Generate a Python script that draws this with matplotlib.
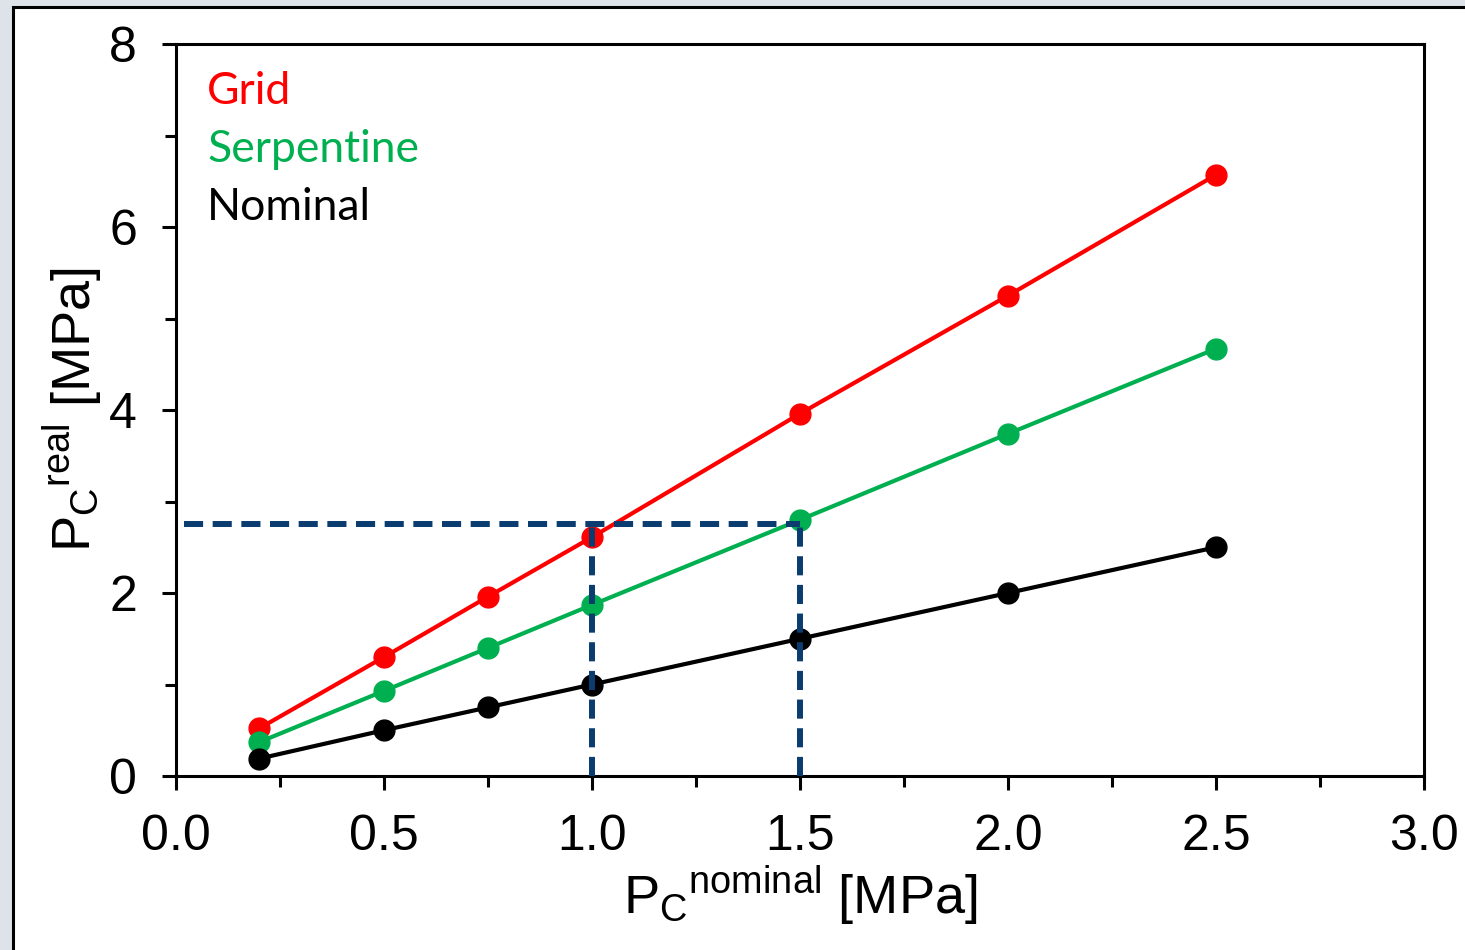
import matplotlib
matplotlib.use("Agg")
import matplotlib.pyplot as plt
from matplotlib.patches import Rectangle
from matplotlib.ticker import MultipleLocator

# Data
x_nominal = [0.2, 0.5, 0.75, 1.0, 1.5, 2.0, 2.5]
grid_vals = [0.52, 1.30, 1.96, 2.61, 3.96, 5.25, 6.57]
serp_vals = [0.37, 0.93, 1.40, 1.87, 2.80, 3.74, 4.67]
nominal_vals = [0.19, 0.50, 0.75, 1.00, 1.50, 2.00, 2.50]
series_names = ["Grid", "Serpentine", "Nominal"]
series_colors = ["#ff0000", "#00b050", "#000000"]
guide_level = 2.75
guide_x = [1.0, 1.5]
guide_x_start = 0.02

plt.rcParams['font.family'] = ['Liberation Sans', 'DejaVu Sans']
plt.rcParams['mathtext.fontset'] = 'custom'
plt.rcParams['mathtext.rm'] = 'Liberation Sans'
plt.rcParams['mathtext.it'] = 'Liberation Sans'

fig = plt.figure(figsize=(14.65, 9.5), dpi=100)
fig.patch.set_facecolor('#dde3e8')
# white slide panel with border
fig.patches.append(Rectangle((13/1465, -0.01), 1.02, 1 + 0.01 - 7/950,
                             transform=fig.transFigure, facecolor='white',
                             edgecolor='black', linewidth=2.2, zorder=-5))

ax = fig.add_axes([176/1465, 1 - 776/950, (1424 - 176)/1465, (776 - 44)/950])
ax.set_zorder(5)
ax.set_facecolor('white')

for yv, name, col in zip([grid_vals, serp_vals, nominal_vals], series_names, series_colors):
    ax.plot(x_nominal, yv, color=col, lw=3.0, marker='o', ms=15, zorder=3,
            label=name)

dash = dict(color='#0b3c70', lw=4.3, dashes=(3.2, 1.6), zorder=4)
ax.plot([guide_x_start, guide_x[1]], [guide_level, guide_level], **dash)
for gx in guide_x:
    ax.plot([gx, gx], [0, guide_level], **dash)

ax.set_xlim(0, 3.0)
ax.set_ylim(0, 8)
ax.xaxis.set_major_locator(MultipleLocator(0.5))
ax.xaxis.set_minor_locator(MultipleLocator(0.25))
ax.yaxis.set_major_locator(MultipleLocator(2))
ax.yaxis.set_minor_locator(MultipleLocator(1))
ax.xaxis.set_major_formatter(matplotlib.ticker.FormatStrFormatter('%.1f'))
ax.yaxis.set_major_formatter(matplotlib.ticker.FormatStrFormatter('%d'))

for s in ax.spines.values():
    s.set_linewidth(2.2)
ax.tick_params(which='major', direction='out', length=10, width=2.2,
               labelsize=36, pad=17)
ax.tick_params(which='minor', direction='out', length=8, width=2.2)
ax.tick_params(axis='y', which='major', pad=18)

ax.set_xlabel(r'P$_{\mathregular{C}}$$^{\mathregular{nominal}}$ [MPa]',
              fontsize=39, labelpad=4)
ax.set_ylabel(r'P$_{\mathregular{C}}$$^{\mathregular{real}}$ [MPa]',
              fontsize=39, labelpad=3)

legend_y = [0.918, 0.839, 0.760]
for name, col, ty in zip(series_names, series_colors, legend_y):
    ax.text(0.025, ty, name, transform=ax.transAxes, color=col,
            fontsize=32, family=['Lato', 'DejaVu Sans'], va='baseline', ha='left')

fig.savefig('out.png', dpi=100, facecolor=fig.get_facecolor())
